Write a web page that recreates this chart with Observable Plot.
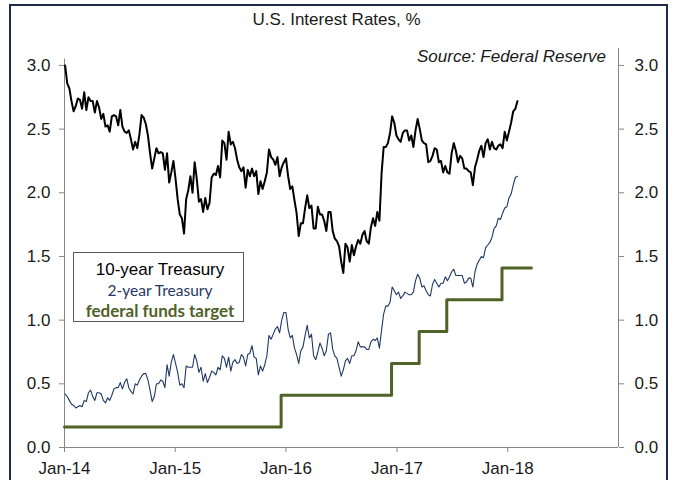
<!DOCTYPE html>
<html>
<head>
<meta charset="utf-8">
<script src="https://cdn.jsdelivr.net/npm/d3@7"></script>
<script src="https://cdn.jsdelivr.net/npm/@observablehq/plot@0.6"></script>
<style>
  html, body { margin: 0; padding: 0; background: #fff; overflow: hidden; }
  #wrap { position: relative; width: 673px; height: 480px; overflow: hidden; }
  #wrap > svg { position: absolute; left: 0; top: 0; }
  #border { position: absolute; left: 9px; top: 4px; width: 659px; height: 520px; border: 2.5px solid #1d2b4b; box-sizing: border-box; pointer-events: none; }
</style>
</head>
<body>
<div id="wrap"><div id="border"></div></div>
<script>
// ---- data (weekly Friday readings, % ) ----
const weekStart = "2014-01-03";
const tenYear2014 = [3.00,2.86,2.82,2.72,2.64, 2.68,2.74,2.73,2.66, 2.79,2.65,2.75,2.72, 2.72,2.63,2.72,2.67, 2.58,2.62,2.52,2.53,2.48, 2.60,2.61,2.60,2.53, 2.65,2.52,2.48,2.47, 2.49,2.42,2.34,2.40,2.35, 2.46,2.61,2.59,2.54, 2.45,2.31,2.19,2.27,2.35, 2.31,2.32,2.31,2.18, 2.31,2.08,2.16,2.25];
const tenYear2015 = [2.11,1.95,1.83,1.80,1.68, 1.95,2.02,2.13,2.00, 2.24,2.11,1.93,1.95, 1.85,1.96,1.87,1.92, 2.12,2.15,2.14,2.21,2.12, 2.41,2.39,2.26,2.48, 2.38,2.40,2.35,2.26,2.20, 2.17,2.20,2.04,2.18, 2.13,2.19,2.13,2.17, 1.99,2.09,2.03,2.09,2.16, 2.34,2.28,2.26,2.22, 2.28,2.13,2.20,2.24];
const tenYear2016 = [2.27,2.13,2.03,2.05,1.94, 1.84,1.66,1.76,1.76, 1.88,1.98,1.88,1.90, 1.72,1.72,1.89,1.83,1.83, 1.78,1.70,1.85,1.85, 1.70,1.64,1.62,1.58, 1.46,1.37,1.60,1.57,1.46, 1.59,1.51,1.58,1.63, 1.60,1.67,1.70,1.62,1.60, 1.73,1.80,1.74,1.85, 1.78,2.15,2.36,2.36, 2.39,2.47,2.60,2.55,2.45];
const tenYear2017 = [2.42,2.40,2.47,2.49, 2.49,2.41,2.45,2.36, 2.49,2.58,2.50,2.41,2.39, 2.38,2.24,2.25,2.29, 2.35,2.34,2.24,2.25, 2.16,2.21,2.16,2.15,2.31, 2.39,2.33,2.24,2.29, 2.27,2.19,2.19,2.17, 2.16,2.06,2.20,2.26,2.33, 2.37,2.28,2.39,2.42, 2.34,2.40,2.35,2.34, 2.37,2.38,2.35,2.48,2.41];
const tenYear2018 = [2.48,2.55,2.64,2.66,2.72];

const twoYear2014 = [0.42,0.40,0.37,0.34,0.33, 0.31,0.32,0.33,0.32, 0.37,0.36,0.43,0.45, 0.40,0.37,0.43,0.43, 0.42,0.37,0.35,0.39,0.37, 0.41,0.46,0.47,0.47, 0.51,0.46,0.51,0.54, 0.47,0.44,0.42,0.50,0.49, 0.53,0.56,0.58,0.58, 0.53,0.45,0.36,0.40,0.50, 0.50,0.53,0.52,0.47, 0.65,0.56,0.67,0.73];
const twoYear2015 = [0.66,0.59,0.49,0.50,0.47, 0.64,0.63,0.63,0.63, 0.73,0.68,0.59,0.63, 0.52,0.58,0.51,0.55, 0.60,0.59,0.57,0.63,0.61, 0.72,0.70,0.63,0.71, 0.60,0.67,0.69,0.66,0.67, 0.73,0.71,0.64,0.73, 0.74,0.80,0.71,0.70, 0.57,0.64,0.60,0.65,0.72, 0.88,0.85,0.89,0.93, 0.95,0.90,1.00,1.06];
const twoYear2016 = [1.06,0.93,0.86,0.88,0.78, 0.73,0.66,0.76,0.79, 0.88,0.96,0.86,0.89, 0.72,0.69,0.75,0.82,0.78, 0.72,0.76,0.89,0.90, 0.77,0.72,0.70,0.63, 0.56,0.61,0.68,0.70,0.66, 0.72,0.72,0.76,0.83, 0.79,0.79,0.79,0.77,0.77, 0.83,0.85,0.84,0.86, 0.78,0.92,1.05,1.11, 1.11,1.14,1.26,1.23,1.20];
const twoYear2017 = [1.22,1.17,1.19,1.22, 1.21,1.20,1.20,1.22, 1.31,1.36,1.33,1.26,1.27, 1.23,1.20,1.19,1.28, 1.32,1.29,1.26,1.29, 1.29,1.34,1.31,1.34,1.38, 1.40,1.35,1.35,1.35, 1.35,1.29,1.30,1.33, 1.33,1.26,1.38,1.44,1.47, 1.50,1.49,1.57,1.59, 1.61,1.65,1.72,1.74, 1.80,1.79,1.84,1.88,1.89];
const twoYear2018 = [1.96,1.99,2.06,2.12,2.13];

const fedDates  = ["2014-01-01","2015-12-16","2016-12-14","2017-03-15","2017-06-14","2017-12-13","2018-03-20"];
const fedValues = [0.16,0.41,0.66,0.91,1.16,1.41,1.41];

const yTicks = [0, 0.5, 1, 1.5, 2, 2.5, 3];
const xTicks = ["2014-01-01","2015-01-01","2016-01-01","2017-01-01","2018-01-01"];
const xDomain = ["2014-01-01","2019-01-01"];
const seriesNames = ["10-year Treasury","2-year Treasury","federal funds target"];
const titleText = "U.S. Interest Rates, %";
const sourceText = "Source: Federal Reserve";

// ---- build ----
const tenYear = [...tenYear2014, ...tenYear2015, ...tenYear2016, ...tenYear2017, ...tenYear2018];
const twoYear = [...twoYear2014, ...twoYear2015, ...twoYear2016, ...twoYear2017, ...twoYear2018];
const t0 = new Date(weekStart + "T00:00:00Z").getTime();
const weekly = tenYear.map((v, i) => ({date: new Date(t0 + i * 7 * 864e5), ten: v, two: twoYear[i]}));
const fed = fedDates.map((d, i) => ({date: new Date(d + "T00:00:00Z"), value: fedValues[i]}));
const xd = xDomain.map(d => new Date(d + "T00:00:00Z"));
const xt = xTicks.map(d => new Date(d + "T00:00:00Z"));

const axisGray = "#868686";
const textCol = "#1a1a1a";
const navy = "#1f3864";
const olive = "#4f6228";

const chart = Plot.plot({
  width: 673, height: 480,
  marginLeft: 64, marginRight: 55, marginTop: 48, marginBottom: 33,
  style: {fontFamily: "'Liberation Sans', Arial, sans-serif", fontSize: "17px", color: textCol, background: "transparent", overflow: "visible"},
  x: {type: "utc", domain: xd},
  y: {domain: [0, 3.133]},
  marks: [
    Plot.ruleX([xd[0]], {y1: 0, y2: 3.05, stroke: axisGray, strokeWidth: 1}),
    Plot.ruleX([xd[1]], {y1: 0, y2: 3.133, stroke: axisGray, strokeWidth: 1}),
    Plot.ruleY([0], {x1: xd[0], x2: xd[1], stroke: axisGray, strokeWidth: 1}),
    Plot.axisY({anchor: "left", ticks: yTicks, tickFormat: d3.format(".1f"), tickSize: 5, tickPadding: 9, label: null, stroke: axisGray, fill: textCol}),
    Plot.axisY({anchor: "right", ticks: yTicks, tickFormat: d3.format(".1f"), tickSize: 5, tickPadding: 11, label: null, stroke: axisGray, fill: textCol}),
    Plot.axisX({ticks: xt, tickFormat: d3.utcFormat("%b-%y"), tickSize: 5, tickPadding: 9, label: null, stroke: axisGray, fill: textCol}),
    Plot.line(fed, {x: "date", y: "value", curve: "step-after", stroke: olive, strokeWidth: 3}),
    Plot.line(weekly, {x: "date", y: "two", stroke: navy, strokeWidth: 1.1}),
    Plot.line(weekly, {x: "date", y: "ten", stroke: "#000", strokeWidth: 2})
  ]
});
const wrap = document.getElementById("wrap");
wrap.insertBefore(chart, document.getElementById("border"));

// overlay: title, source, legend
const ov = d3.select(wrap).append("svg")
  .attr("width", 673).attr("height", 480)
  .style("position", "absolute").style("left", "0px").style("top", "0px").style("pointer-events", "none");
ov.append("text").attr("x", 336.5).attr("y", 25).attr("text-anchor", "middle")
  .style("font-family", "'Liberation Sans', Arial, sans-serif").style("font-size", "17px").attr("fill", textCol).text(titleText);
ov.append("text").attr("x", 606).attr("y", 62).attr("text-anchor", "end")
  .style("font-family", "'Liberation Sans', Arial, sans-serif").style("font-size", "17px").style("font-style", "italic").attr("fill", textCol).text(sourceText);
ov.append("rect").attr("x", 73.5).attr("y", 252.5).attr("width", 170).attr("height", 69)
  .attr("fill", "#fff").attr("stroke", "#595959").attr("stroke-width", 1);
const lg = [
  {t: seriesNames[0], y: 275, fam: "'Liberation Sans', Arial, sans-serif", size: "17px", w: "normal", c: "#000"},
  {t: seriesNames[1], y: 296, fam: "Lato, 'Open Sans', sans-serif", size: "15.5px", w: "normal", c: navy},
  {t: seriesNames[2], y: 317, fam: "Lato, 'Open Sans', sans-serif", size: "17px", w: "bold", c: olive}
];
lg.forEach(d => ov.append("text").attr("x", 160).attr("y", d.y).attr("text-anchor", "middle")
  .style("font-family", d.fam).style("font-size", d.size).style("font-weight", d.w).attr("fill", d.c).text(d.t));
</script>
</body>
</html>
